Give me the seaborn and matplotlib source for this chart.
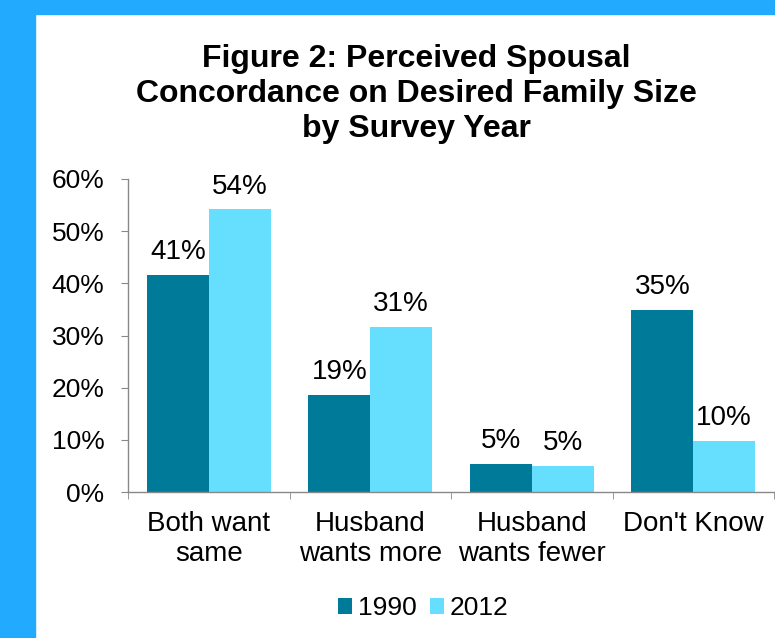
import pandas as pd
import numpy as np
import matplotlib
matplotlib.use('Agg')
import matplotlib.pyplot as plt
import seaborn as sns
from matplotlib.patches import Rectangle

# dados
categorias = ['Both want\nsame', 'Husband\nwants more', 'Husband\nwants fewer', "Don't Know"]
anos = ['1990', '2012']
valores_1990 = [0.416, 0.186, 0.054, 0.349]
valores_2012 = [0.542, 0.316, 0.050, 0.098]
rotulos_1990 = ['41%', '19%', '5%', '35%']
rotulos_2012 = ['54%', '31%', '5%', '10%']

df = pd.DataFrame({
    'Categoria': categorias * 2,
    'Ano': [anos[0]] * 4 + [anos[1]] * 4,
    'Valor': valores_1990 + valores_2012,
})

sns.set_style('white')
plt.rcParams['font.family'] = ['Liberation Sans', 'DejaVu Sans']
plt.rcParams.update({'text.color': 'black', 'xtick.labelcolor': 'black',
                     'ytick.labelcolor': 'black'})

cores = {'1990': '#007A99', '2012': '#66DFFF'}

fig = plt.figure(figsize=(7.75, 6.38), dpi=100)
fig.patch.set_facecolor('white')
# moldura azul (topo e esquerda)
fig.patches.append(Rectangle((0, 1 - 14/638), 1, 14/638, transform=fig.transFigure,
                             color='#22AAFF', zorder=0))
fig.patches.append(Rectangle((0, 0), 35/775, 1, transform=fig.transFigure,
                             color='#22AAFF', zorder=0))

ax = fig.add_axes([128/775, 146/638, 646/775, 313/638])
sns.barplot(data=df, x='Categoria', y='Valor', hue='Ano', palette=cores,
            width=0.766, saturation=1, ax=ax, legend=True, linewidth=0)

for cont, rot in zip(ax.containers, [rotulos_1990, rotulos_2012]):
    ax.bar_label(cont, labels=rot, padding=7, fontsize=20, color='black')

ax.set_xlim(-0.5, 3.5)
ax.set_ylim(0, 0.6)
ax.set_yticks(np.arange(0, 0.61, 0.1))
ax.set_yticklabels([f'{int(round(v*100))}%' for v in np.arange(0, 0.61, 0.1)], fontsize=19)
ax.set_xticks(range(4))
ax.set_xticklabels(categorias, fontsize=20, linespacing=1.2)
ax.set_xticks(np.arange(-0.5, 3.6, 1), minor=True)
ax.tick_params(axis='x', which='major', length=0, pad=14, labelcolor='black')
ax.tick_params(axis='x', which='minor', length=5, color='#888888', direction='out', bottom=True)
ax.tick_params(axis='y', length=5, color='#888888', direction='out', left=True, pad=12,
               labelcolor='black')
ax.set_xlabel('')
ax.set_ylabel('')
for s in ['top', 'right']:
    ax.spines[s].set_visible(False)
for s in ['left', 'bottom']:
    ax.spines[s].set_color('#888888')
    ax.spines[s].set_linewidth(1)

leg = ax.legend(loc='center', bbox_to_anchor=(423/775, 30/638), bbox_transform=fig.transFigure,
                ncol=2, frameon=False, fontsize=19, handlelength=0.55, handleheight=0.55,
                handletextpad=0.2, columnspacing=0.5)
for t in leg.get_texts():
    t.set_color('black')

fig.text(416/775, 1 - 94/638, 'Figure 2: Perceived Spousal\nConcordance on Desired Family Size\nby Survey Year',
         ha='center', va='center', fontsize=23, fontweight='bold', linespacing=1.22,
         color='black')

fig.savefig('out.png', dpi=100)
